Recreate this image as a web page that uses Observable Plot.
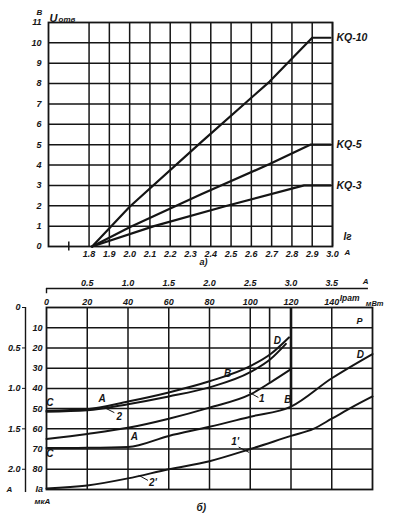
<!DOCTYPE html>
<html><head><meta charset="utf-8">
<script src="https://cdn.jsdelivr.net/npm/d3@7"></script>
<script src="https://cdn.jsdelivr.net/npm/@observablehq/plot@0.6"></script>
<style>
html,body{margin:0;padding:0;background:#fff;}
#wrap{position:relative;width:395px;height:517px;overflow:hidden;background:#fff;}
#wrap svg{position:absolute;left:0;overflow:visible;}
</style></head><body><div id="wrap"></div>
<script>
// ---------- chart a) ----------
const currentTicksA = [1.8,1.9,2.0,2.1,2.2,2.3,2.4,2.5,2.6,2.7,2.8,2.9,3.0];
const voltTicks = [0,1,2,3,4,5,6,7,8,9,10,11];
const seriesNames = ["KQ-10","KQ-5","KQ-3"];
const kq10 = [[1.815,0],[2.0,1.95],[2.35,5.1],[2.69,8.1],[2.9,10.25],[2.99,10.25]];
const kq5  = [[1.815,0],[2.0,0.95],[2.35,2.55],[2.69,4.05],[2.89,5.0],[2.99,5.0]];
const kq3  = [[1.815,0],[2.12,1.0],[2.48,2.0],[2.86,3.0],[2.99,3.0]];
const seriesA = [kq10,kq5,kq3];

// ---------- chart b) ----------
const powerTicks = [0,20,40,60,80,100,120,140];          // P, мВт
const currentTicksB = [0.5,1.0,1.5,2.0,2.5,3.0,3.5];     // Iрат, A
const iaTicks = [10,20,30,40,50,60,70,80];               // Iа, мкА
const outerTicks = [0,0.5,1.0,1.5,2.0];                  // A
const curveUpper = [[0,51],[20,50.3],[40,46.5],[60,42],[80,36.5],[100,29],[110,23],[119,14.8]];
const curve2     = [[0,51.5],[20,50.8],[40,47.8],[60,44],[80,39.5],[100,32],[110,25.5],[117.5,18]];
const curve1     = [[0,65],[20,62.5],[40,59.5],[60,55],[80,49.5],[100,43],[110,37],[120,30.5]];
const curveABD   = [[0,69.5],[20,69.4],[40,69],[60,63.5],[80,59],[100,54],[120,49],[140,35],[160,23]];
const curve12p   = [[0,89.5],[20,88],[40,84.5],[60,80],[80,76],[100,70],[120,63.5],[131,60],[140,55],[150,49.3],[160,44]];
const cutoffs = [{p:109.5, ia:37, w:1.6},{p:120, ia:49, w:2.6}];
const labelsB = [
  {t:"C", x:1.7, y:47.2}, {t:"A", x:27.3, y:45.3}, {t:"2", x:35.7, y:54.2},
  {t:"C", x:1.7, y:72.5}, {t:"A", x:43.1, y:63.8}, {t:"1", x:105.7, y:45.3},
  {t:"B", x:88.9, y:32.9}, {t:"D", x:113.3, y:16.3}, {t:"B", x:118.5, y:45.5},
  {t:"D", x:154, y:23.2}, {t:"1'", x:92.6, y:66.3}, {t:"2'", x:52.2, y:86.8}
];
const leadersB = [
  {x1:28.4,y1:49.5,x2:33.3,y2:52},
  {x1:99.5,y1:42,x2:104,y2:44.5},
  {x1:94.3,y1:69,x2:99.5,y2:71.7},
  {x1:45.3,y1:83,x2:49.8,y2:85.5}
];

const ink = "#151515";
const fontStyle = {fontFamily:"'Liberation Sans', 'DejaVu Sans', sans-serif", fontSize:"9px", fontStyle:"italic", fontWeight:"bold", color:ink, background:"transparent"};

const chartA = Plot.plot({
  width: 395, height: 270,
  marginLeft: 48, marginRight: 63, marginTop: 22, marginBottom: 24,
  x: {domain: [1.6, 3.0]},
  y: {domain: [0, 11]},
  style: fontStyle,
  marks: [
    Plot.gridX(currentTicksA, {stroke: ink, strokeOpacity: 1, strokeWidth: 1.5}),
    Plot.gridY(voltTicks.slice(1, -1), {stroke: ink, strokeOpacity: 1, strokeWidth: 1.5}),
    Plot.frame({stroke: ink, strokeWidth: 1.8}),
    Plot.ruleX([1.7], {y1: -0.22, y2: 0.22, stroke: ink, strokeWidth: 1.5}),
    Plot.axisX({ticks: currentTicksA, tickSize: 0, tickPadding: 4, tickFormat: d3.format(".1f")}),
    Plot.axisY({ticks: voltTicks, tickSize: 0, tickPadding: 7}),
    ...seriesA.map(s => Plot.line(s, {stroke: ink, strokeWidth: 2.2})),
    Plot.text(seriesNames, {x: (d,i) => seriesA[i][seriesA[i].length-1][0], y: (d,i) => seriesA[i][seriesA[i].length-1][1],
      text: d => d, dx: 6, textAnchor: "start", fontSize: 10.5}),
    Plot.text(["В"], {frameAnchor: "top-left", dx: -12, dy: -13, fontSize: 8}),
    Plot.text(["U"], {frameAnchor: "top-left", dx: 1, dy: -8, textAnchor: "start", fontSize: 11}),
    Plot.text(["отв"], {frameAnchor: "top-left", dx: 10, dy: -6, textAnchor: "start", fontSize: 8}),
    Plot.text(["Iг"], {frameAnchor: "bottom-right", dx: 11, dy: -7, textAnchor: "start", fontSize: 10}),
    Plot.text(["A"], {frameAnchor: "bottom-right", dx: 15, dy: 8, textAnchor: "middle", fontSize: 8}),
    Plot.text(["a)"], {frameAnchor: "bottom", dx: 13, dy: 18, fontSize: 9})
  ]
});

const chartB = Plot.plot({
  width: 395, height: 247,
  marginLeft: 46, marginRight: 23, marginTop: 37, marginBottom: 28,
  x: {domain: [0, 160]},
  y: {domain: [0, 90], reverse: true},
  style: fontStyle,
  marks: [
    Plot.gridX(powerTicks.slice(1), {stroke: ink, strokeOpacity: 1, strokeWidth: 1.5}),
    Plot.gridY(iaTicks, {stroke: ink, strokeOpacity: 1, strokeWidth: 1.5}),
    Plot.frame({stroke: ink, strokeWidth: 1.8}),
    Plot.ruleX(cutoffs, {x: "p", y1: 0, y2: "ia", strokeWidth: d => d.w, stroke: ink}),
    // P axis (top of frame)
    Plot.axisX({anchor: "top", ticks: powerTicks, tickSize: 0, tickPadding: 3}),
    // current axis above
    Plot.ruleY([0], {x1: 0, x2: 158, dy: -19, stroke: ink, strokeWidth: 1.4}),
    Plot.ruleX([0], {y1: -9.4, y2: -6.8, stroke: ink, strokeWidth: 1.4}),
    Plot.text(currentTicksB, {x: d => d * 40, frameAnchor: "top", dy: -28, text: d => d3.format(".1f")(d)}),
    Plot.text(["A"], {frameAnchor: "top-right", dx: -4, dy: -29, fontSize: 8}),
    Plot.text(["Iрат"], {frameAnchor: "top-right", dx: -13, dy: -13, fontSize: 8.5}),
    Plot.text(["мВт"], {frameAnchor: "top-right", dx: 11, dy: -7, fontSize: 7.5}),
    Plot.text(["P"], {frameAnchor: "top-right", dx: -10, dy: 10, fontSize: 9}),
    // inner left axis (Iа)
    Plot.axisY({ticks: iaTicks, tickSize: 0, tickPadding: 4}),
    Plot.text(["Iа"], {frameAnchor: "left", y: () => 90, dx: -11, fontSize: 9}),
    Plot.text(["мкА"], {frameAnchor: "bottom-left", dx: -12, dy: 14, fontSize: 8}),
    // outer left axis (A)
    Plot.ruleX([0], {y1: 0, y2: 91.5, dx: -21, stroke: ink, strokeWidth: 1.4}),
    Plot.axisY({ticks: outerTicks.map(v => v * 40), tickFormat: d => d === 0 ? "0" : d3.format(".1f")(d / 40),
      dx: -21, tickSize: 3, tickPadding: 2}),
    Plot.text(["A"], {frameAnchor: "left", y: () => 90, dx: -40, fontSize: 8}),
    // curves
    ...[curveUpper, curve2, curve1, curveABD, curve12p].map(c =>
      Plot.line(c, {stroke: ink, strokeWidth: 2, curve: "monotone-x"})),
    Plot.link(leadersB, {x1: "x1", y1: "y1", x2: "x2", y2: "y2", stroke: ink, strokeWidth: 1}),
    Plot.text(labelsB, {x: "x", y: "y", text: "t", fontSize: 10}),
    Plot.text(["б)"], {x: () => 76, y: () => 98.9, fontSize: 10})
  ]
});

chartA.style.top = "0px";
chartB.style.top = "270px";
document.getElementById("wrap").append(chartA, chartB);
</script>
</body></html>
